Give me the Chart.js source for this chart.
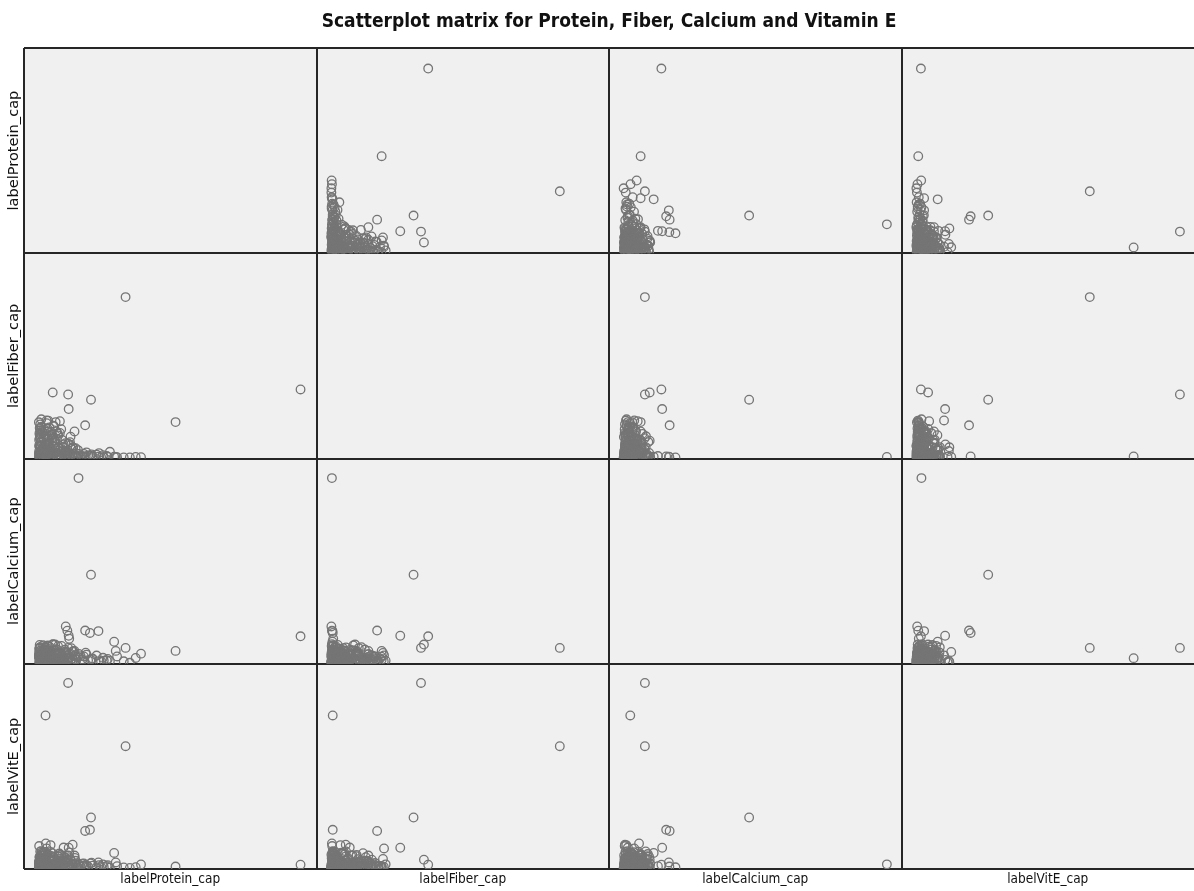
<!DOCTYPE html>
<html>
<head>
<meta charset="utf-8">
<title>Scatterplot matrix</title>
<script src="https://cdn.jsdelivr.net/npm/chart.js@4.4.1/dist/chart.umd.min.js"></script>
<style>
  html, body { margin: 0; padding: 0; background: #ffffff; overflow: hidden; }
  #wrap { position: relative; width: 1194px; height: 891px; }
</style>
</head>
<body>
<div id="wrap"><canvas id="splom"></canvas></div>
<script>
// One value per food item, same order in every array.
const protein = [
  98.5, 32.7, 15.0, 11.1, 2.6, 51.5, 19.7, 19.3, 17.5, 22.5,
  11.3, 3.0, 8.0, 1.0, 6.4, 13.5, 9.4, 12.8, 2.7, 28.4,
  4.5, 29.0, 29.5, 0.2, 7.5, 5.0, 38.5, 36.5, 34.3, 10.8,
  11.5, 10.2, 5.3, 24.5, 26.0, 32.0, 17.0, 19.5,
  0.5, 1.2, 2.0, 0.8, 3.4, 1.5, 4.2, 0.3, 2.8, 5.5,
  0.9, 6.8, 3.1, 1.8, 7.6, 0.4, 4.9, 2.3, 8.9, 1.1,
  9.8, 3.7, 0.6, 11.2, 5.9, 2.5, 12.6, 0.2, 14.1, 6.3,
  1.6, 15.8, 4.4, 0.7, 17.2, 3.3, 8.1, 1.9, 18.6, 5.1,
  0.1, 10.4, 2.6, 20.3, 7.2, 1.4, 13.3, 4.0, 0.9, 21.8,
  6.0, 2.1, 16.4, 3.6, 9.2, 0.5, 23.5, 4.7, 12.0, 1.3,
  7.9, 2.9, 18.0, 5.6, 0.3, 10.9, 3.9, 25.6, 6.6, 1.0,
  14.8, 4.3, 8.5, 2.2, 19.9, 0.6, 11.8, 3.0, 7.0, 26.8,
  5.3, 1.7, 15.1, 3.8, 9.6, 0.4, 22.7, 6.1, 2.4, 13.9,
  4.6, 0.8, 17.7, 7.4, 1.5, 10.1, 3.5, 24.2, 5.8, 0.2,
  0.3, 2.4, 4.8, 1.1, 6.5, 0.7, 8.6, 3.2, 10.7, 1.9,
  12.3, 5.0, 0.4, 7.7, 2.9, 13.6, 0.8, 4.1, 9.3, 1.6,
  6.9, 0.2, 11.5, 3.5, 5.7, 0.9, 8.0, 2.7, 14.0, 0.5,
  4.5, 10.0, 1.3, 6.2, 2.0, 12.9, 0.6, 7.3, 3.8, 9.9,
  0.1, 5.2, 1.7, 11.1, 2.6, 8.3, 0.4, 4.3, 13.0, 1.0,
  6.7, 3.0, 9.0, 0.8, 5.4, 12.0, 2.2, 7.0, 0.3, 10.4,
  3.4, 6.0, 1.4, 8.8, 4.0, 0.6, 11.8, 2.8, 7.8, 0.2
];
const fiber = [
  36.5, 86.0, 0.3, 33.8, 0.6, 19.0, 31.0, 0.6, 17.3, 0.5,
  26.0, 19.9, 19.5, 20.5, 19.0, 14.0, 7.0, 5.5, 0.3, 0.5,
  3.5, 0.3, 0.2, 0.4, 5.5, 10.2, 0.2, 0.3, 0.1, 0.3,
  0.8, 0.1, 34.9, 0.2, 0.4, 0.1, 2.0, 1.0,
  0.8, 2.1, 0.4, 3.5, 1.6, 5.2, 0.9, 1.2, 6.8, 2.4,
  8.5, 1.1, 4.4, 10.5, 0.6, 12.2, 3.0, 14.8, 1.9, 16.5,
  0.3, 7.4, 17.8, 2.6, 5.6, 11.6, 1.4, 9.4, 0.7, 3.8,
  13.5, 0.9, 2.2, 6.1, 0.4, 15.6, 4.7, 0.2, 1.2, 8.9,
  18.9, 3.3, 1.8, 0.6, 12.9, 2.9, 2.1, 16.2, 0.5, 1.6,
  7.9, 4.1, 0.8, 19.8, 5.4, 10.8, 0.2, 1.3, 6.6, 14.1,
  0.1, 3.7, 2.8, 17.1, 5.9, 1.0, 9.9, 0.9, 2.5, 12.6,
  4.0, 0.6, 15.2, 7.0, 1.7, 2.3, 8.2, 18.4, 0.3, 3.1,
  11.0, 4.8, 2.0, 6.3, 0.7, 15.9, 2.4, 9.1, 1.5, 5.0,
  13.8, 3.2, 0.5, 11.9, 0.9, 7.7, 2.7, 1.3, 16.7, 6.5,
  0.5, 1.8, 0.4, 3.9, 2.7, 6.4, 0.2, 9.6, 1.5, 0.8,
  4.6, 12.4, 2.5, 0.9, 7.2, 1.2, 14.6, 0.3, 5.8, 1.0,
  10.1, 3.4, 0.6, 8.3, 2.0, 0.1, 13.2, 5.1, 0.5, 11.4,
  1.4, 3.6, 0.7, 9.0, 4.3, 0.2, 15.3, 1.7, 6.9, 0.4,
  2.2, 12.0, 0.9, 7.5, 3.0, 0.1, 10.4, 2.6, 5.3, 0.6,
  14.0, 1.1, 3.2, 8.0, 0.3, 11.2, 4.9, 0.8, 13.0, 2.3,
  0.5, 6.0, 1.9, 9.5, 0.2, 5.6, 1.3, 12.7, 3.8, 0.4
];
const calcium = [
  14.2, 8.0, 99.0, 8.0, 2.5, 6.4, 47.2, 16.0, 17.3, 17.0,
  14.5, 4.0, 5.3, 1.1, 1.6, 6.4, 1.6, 0.5, 5.8, 11.3,
  1.0, 6.4, 3.4, 0.4, 2.0, 4.3, 4.9, 2.6, 0.0, 17.2,
  12.9, 19.5, 9.8, 1.2, 2.1, 0.8, 3.4, 1.6,
  0.4, 0.9, 1.5, 0.2, 2.2, 1.0, 0.6, 3.1, 1.8, 0.3,
  2.6, 1.3, 3.8, 0.7, 2.9, 1.4, 0.5, 2.0, 1.1, 3.4,
  0.8, 4.5, 0.5, 2.4, 1.7, 3.0, 0.9, 5.2, 1.9, 0.4,
  2.2, 3.6, 6.1, 1.2, 0.6, 1.6, 4.9, 2.7, 1.4, 0.8,
  3.3, 5.6, 0.1, 2.3, 1.5, 4.2, 0.3, 2.5, 1.0, 3.9,
  0.6, 6.8, 1.8, 0.9, 2.8, 1.9, 0.7, 3.5, 1.2, 4.6,
  0.2, 2.0, 4.4, 1.1, 3.2, 0.5, 5.9, 1.3, 2.6, 0.8,
  3.0, 1.6, 0.4, 4.0, 2.1, 0.6, 5.0, 2.4, 3.7, 1.0,
  0.1, 2.9, 4.8, 1.4, 2.3, 3.6, 0.9, 6.5, 0.3, 1.7,
  3.1, 1.3, 5.4, 0.7, 2.5, 4.1, 0.8, 2.7, 1.9, 3.9,
  6.2, 8.1, 4.7, 2.9, 7.3, 0.6, 9.0, 3.6, 1.3, 5.5,
  7.8, 2.0, 9.6, 0.9, 6.9, 4.1, 1.5, 8.6, 3.0, 0.2,
  5.1, 7.5, 2.6, 9.3, 1.1, 4.4, 0.4, 6.6, 3.3, 8.4,
  0.7, 6.0, 2.3, 9.8, 1.7, 5.8, 3.9, 8.9, 0.5, 7.0,
  4.0, 2.7, 9.4, 1.9, 5.3, 3.5, 7.9, 0.3, 6.3, 1.4,
  4.6, 8.0, 2.1, 6.7, 10.0, 0.8, 3.8, 7.2, 2.4, 5.0,
  9.1, 1.6, 6.4, 4.3, 0.9, 8.3, 3.1, 7.1, 5.7, 2.8
];
const vitE = [
  1.8, 65.3, 2.0, 99.2, 81.8, 0.8, 27.1, 20.5, 19.9, 3.0,
  10.9, 10.5, 4.9, 2.0, 1.0, 6.7, 11.0, 12.5, 13.2, 8.1,
  12.3, 3.0, 1.0, 11.8, 6.2, 4.8, 1.9, 0.5, 0.1, 0.8,
  1.0, 0.4, 4.5, 0.6, 1.5, 0.3, 2.5, 2.5,
  0.3, 0.6, 1.1, 0.9, 0.4, 1.8, 2.4, 0.2, 1.4, 0.7,
  3.2, 0.5, 1.6, 2.1, 1.0, 0.8, 3.6, 1.3, 0.3, 2.7,
  1.9, 0.6, 1.2, 0.9, 4.1, 0.4, 2.2, 1.5, 0.2, 2.9,
  3.4, 0.7, 1.1, 4.6, 1.4, 0.5, 2.0, 5.2, 0.8, 1.7,
  0.3, 3.0, 2.5, 1.3, 0.6, 3.8, 0.1, 1.9, 4.9, 0.4,
  2.6, 1.0, 2.3, 0.7, 1.5, 3.3, 0.6, 5.7, 0.8, 2.8,
  1.2, 0.2, 1.6, 0.9, 2.1, 4.4, 0.5, 1.0, 3.1, 1.4,
  0.3, 2.0, 1.8, 0.7, 2.9, 5.5, 0.4, 1.1, 3.5, 0.2,
  1.3, 2.4, 1.7, 0.1, 6.0, 0.9, 1.6, 2.2, 0.8, 3.9,
  0.6, 1.5, 0.9, 2.5, 4.2, 1.2, 0.3, 2.0, 1.0, 2.7,
  3.8, 0.7, 6.5, 8.2, 2.4, 5.1, 1.2, 7.0, 4.3, 8.8,
  0.5, 3.6, 6.1, 7.6, 1.8, 5.4, 2.9, 4.8, 0.9, 6.8,
  3.3, 1.6, 8.4, 2.2, 5.9, 0.4, 4.0, 7.3, 2.6, 1.0,
  8.6, 3.0, 5.0, 0.6, 7.9, 1.9, 4.5, 6.3, 2.0, 5.6,
  3.1, 8.0, 1.4, 6.7, 0.3, 7.1, 2.8, 4.7, 1.5, 9.0,
  3.7, 5.2, 0.8, 6.9, 2.3, 4.2, 8.5, 1.7, 5.8, 3.4,
  7.5, 0.2, 4.1, 6.4, 2.5, 8.9, 5.3, 1.1, 7.8, 3.5
];

// Variable order down the rows and across the columns.
const variables = [protein, fiber, calcium, vitE];
const axisTitles = ['labelProtein_cap', 'labelFiber_cap', 'labelCalcium_cap', 'labelVitE_cap'];
const chartTitle = 'Scatterplot matrix for Protein, Fiber, Calcium and Vitamin E';

// Shared value ranges: the horizontal range leaves room on the left of each cell.
const X_RANGE = [-5.5, 104.5];
const Y_RANGE = [-0.5, 109.5];

const LINE = '#262626';
const POINT = '#757575';
const PANEL = '#f0f0f0';
const NARROW = "'Liberation Sans Narrow', 'DejaVu Sans Condensed', 'Roboto Condensed', sans-serif";

const scales = {};
for (let j = 0; j < 4; j++) {
  scales['x' + j] = {
    type: 'linear', position: 'bottom', stack: 'cols', stackWeight: 1, weight: j + 1,
    min: X_RANGE[0], max: X_RANGE[1],
    afterBuildTicks: s => { s.ticks = j < 3 ? [{ value: s.min }, { value: s.max }] : [{ value: s.min }]; },
    ticks: { display: false },
    grid: { color: LINE, lineWidth: 2, drawTicks: false },
    border: { display: false },
    title: {
      display: true, text: axisTitles[j], color: '#111',
      font: { family: NARROW, size: 13.5, lineHeight: 1.2 },
      padding: { top: 2.8, bottom: 3 }
    }
  };
}
for (let i = 0; i < 4; i++) {
  scales['y' + i] = {
    type: 'linear', position: 'left', stack: 'rows', stackWeight: 1, weight: 4 - i,
    min: Y_RANGE[0], max: Y_RANGE[1],
    afterBuildTicks: s => { s.ticks = [{ value: s.min }, { value: s.max }]; },
    ticks: { display: false },
    grid: { color: LINE, lineWidth: 2, drawTicks: false },
    border: { display: false },
    title: {
      display: true, text: axisTitles[i], color: '#111',
      font: { family: "'DejaVu Sans', sans-serif", size: 14.6, lineHeight: 1 },
      padding: { top: 7.2, bottom: 2.2 }
    }
  };
}

// One scatter cell for every pair of different variables.
const datasets = [];
for (let r = 0; r < 4; r++) {
  for (let c = 0; c < 4; c++) {
    if (r === c) continue;
    datasets.push({
      label: axisTitles[r] + ' vs ' + axisTitles[c],
      xAxisID: 'x' + c,
      yAxisID: 'y' + r,
      data: variables[c].map((v, k) => ({ x: v, y: variables[r][k] })),
      showLine: false,
      pointStyle: 'circle',
      pointRadius: 4.3,
      pointHoverRadius: 4.3,
      pointBorderWidth: 1.3,
      pointBorderColor: POINT,
      pointBackgroundColor: 'rgba(0,0,0,0)'
    });
  }
}

const panelFill = {
  id: 'panelFill',
  beforeDraw(chart) {
    const { ctx, chartArea: a } = chart;
    ctx.save();
    ctx.fillStyle = PANEL;
    ctx.fillRect(a.left, a.top, a.right - a.left, a.bottom - a.top);
    ctx.restore();
  }
};

new Chart(document.getElementById('splom'), {
  type: 'scatter',
  data: { datasets },
  plugins: [panelFill],
  options: {
    responsive: true,
    maintainAspectRatio: false,
    animation: false,
    layout: { padding: 0, autoPadding: false },
    events: [],
    scales,
    plugins: {
      legend: { display: false },
      tooltip: { enabled: false },
      title: {
        display: true, text: chartTitle, color: '#111',
        fullSize: false,
        font: { family: NARROW, size: 19, weight: 'bold', lineHeight: 1.2 },
        padding: { top: 11, bottom: 14.2 }
      }
    }
  }
});
</script>
</body>
</html>
